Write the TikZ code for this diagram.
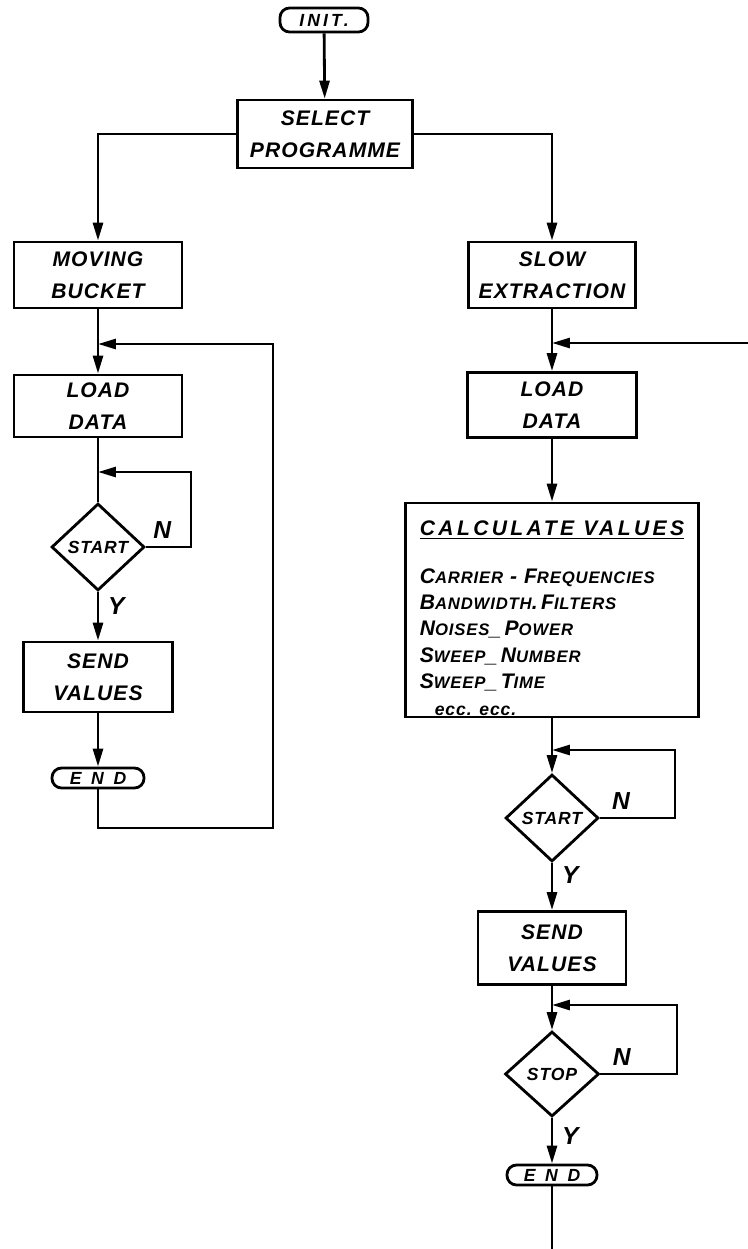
\documentclass[tikz,border=0pt]{standalone}
\usepackage{fontspec}
\newfontfamily\handfont{Liberation Sans}[LetterSpace=5.0]
\usetikzlibrary{arrows.meta,shapes.geometric}
\newcommand{\smc}[2]{#1{\fontsize{9.5}{10}\selectfont #2}}

\begin{document}
\begin{tikzpicture}[x=0.02cm,y=-0.02cm,>={Triangle[length=0.36cm,width=0.2cm]},line width=1.6pt,
  every node/.style={inner sep=0pt,font=\handfont\bfseries\itshape\fontsize{12}{18}\selectfont},
  proc/.style={draw,align=center},
  term/.style={draw,rounded corners=0.19cm,font=\handfont\bfseries\itshape\fontsize{10}{12}\selectfont},
  test/.style={draw,diamond,font=\handfont\bfseries\itshape\fontsize{10}{12}\selectfont},
  lbl/.style={font=\handfont\bfseries\itshape\fontsize{14}{14}\selectfont}]
\useasboundingbox (0,0) rectangle (748,1249);
\node[term,minimum width=1.76cm,minimum height=0.48cm] (init) at (324,20) {\addfontfeature{LetterSpace=18}INIT.};
\node[proc,minimum width=3.5cm,minimum height=1.36cm] (sel) at (325,134) {SELECT\\PROGRAMME};
\node[proc,minimum width=3.36cm,minimum height=1.32cm] (mb) at (98,275) {MOVING\\BUCKET};
\node[proc,minimum width=3.34cm,minimum height=1.32cm] (se) at (552,275) {SLOW\\EXTRACTION};
\node[proc,minimum width=3.36cm,minimum height=1.24cm] (ld1) at (98,406) {LOAD\\DATA};
\node[test,minimum width=1.86cm,minimum height=1.74cm] (st1) at (98,547) {START};
\node[proc,minimum width=2.98cm,minimum height=1.4cm] (sv1) at (98,677) {SEND\\VALUES};
\node[term,minimum width=1.84cm,minimum height=0.4cm] (end1) at (98,778) {\addfontfeature{LetterSpace=55}END};
\node[proc,minimum width=3.38cm,minimum height=1.3cm] (ld2) at (552,405) {LOAD\\DATA};
\node[proc,minimum width=5.86cm,minimum height=4.28cm,align=left,font=\handfont\bfseries\itshape\fontsize{12}{15}\selectfont] (calc) at (552,610) {\addfontfeature{LetterSpace=16}%
  \rule{0pt}{0.62cm}\underline{CALCULATE VALUES}\\[12pt]
  \smc{C}{ARRIER} - \smc{F}{REQUENCIES}\\
  \smc{B}{ANDWIDTH}.\,\smc{F}{ILTERS}\\
  \smc{N}{OISES}\_\,\smc{P}{OWER}\\
  \smc{S}{WEEP}\_\,\smc{N}{UMBER}\\
  \smc{S}{WEEP}\_\,\smc{T}{IME}\\
  \hspace{0.3cm}{\fontsize{10}{10}\selectfont ecc. ecc.}};
\node[test,minimum width=1.86cm,minimum height=1.74cm] (st2) at (552,818) {START};
\node[proc,minimum width=2.96cm,minimum height=1.46cm] (sv2) at (552,948) {SEND\\VALUES};
\node[test,minimum width=1.88cm,minimum height=1.7cm] (stop) at (552,1074) {STOP};
\node[term,minimum width=1.8cm,minimum height=0.4cm] (end2) at (552,1175) {\addfontfeature{LetterSpace=55}END};
\coordinate (j1) at (98,344); \coordinate (j2) at (98,472); \coordinate (l1) at (273,828); \coordinate (l2) at (191,472);
\coordinate (j3) at (552,343); \coordinate (j4) at (552,750); \coordinate (j5) at (552,1005);
\coordinate (l4) at (675,750); \coordinate (l5) at (677,1005); \coordinate (in) at (748,343); \coordinate (out) at (552,1249);
\draw[->] (init) -- (sel); \draw[->] (sel) -| (mb); \draw[->] (sel) -| (se);
\draw[->] (mb) -- (ld1); \draw (ld1) -- (st1);
\draw[->] (st1) -- node[lbl,right=5pt,pos=.3] {Y} (sv1); \draw[->] (sv1) -- (end1);
\draw[->] (end1) |- (l1) |- (j1);
\draw[->] (st1) -| node[lbl,above=4pt,pos=.18] {N} (l2) -- (j2);
\draw[->] (se) -- (ld2); \draw[->] (ld2) -- (calc); \draw[->] (calc) -- (st2);
\draw[->] (st2) -- node[lbl,right=5pt,pos=.25] {Y} (sv2); \draw[->] (sv2) -- (stop);
\draw[->] (stop) -- node[lbl,right=5pt,pos=.4] {Y} (end2); \draw (end2) -- (out);
\draw[->] (in) -- (j3);
\draw[->] (st2) -| node[lbl,above=4pt,pos=.14] {N} (l4) -- (j4);
\draw[->] (stop) -| node[lbl,above=4pt,pos=.14] {N} (l5) -- (j5);
\end{tikzpicture}
\end{document}
